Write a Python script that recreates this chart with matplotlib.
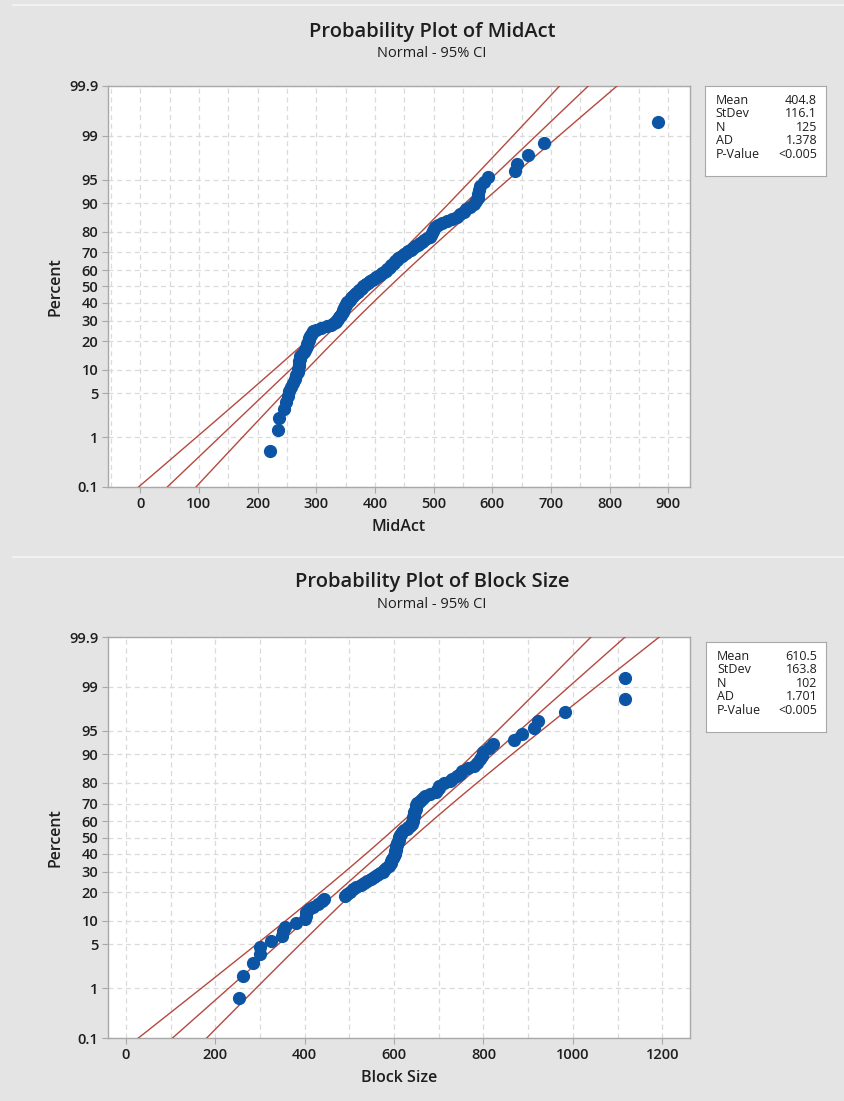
import matplotlib
matplotlib.use('Agg')
import matplotlib.pyplot as plt
from matplotlib.ticker import MultipleLocator, FixedLocator
from matplotlib.lines import Line2D
from statistics import NormalDist
import numpy as np

midact = [221, 235, 237, 245, 248, 251, 254, 257, 260, 263,
          266, 268, 269, 270, 271, 271, 272, 273, 276, 279,
          281, 282, 284, 285, 286, 287, 288, 290, 291, 292, 294,
          300, 308, 318, 325, 330, 333, 335, 337, 339, 340,
          342, 344, 345, 346, 347, 348, 349, 350, 351,
          353, 355, 357, 359, 361, 363, 366, 368, 371, 373,
          376, 378, 380, 383, 385, 389, 392, 395, 398, 402,
          405, 409, 412, 416, 419, 421, 424, 426, 428, 431,
          433, 435, 437, 440, 443, 446, 449, 453, 457, 461,
          465, 469, 473, 476, 480, 484, 489, 493, 495, 497,
          499, 500, 502, 508, 514, 522, 531, 539, 545, 551,
          556, 562, 568, 573, 575, 576, 577, 579, 586, 593,
          638, 642, 660, 688, 882]

block_size = [253, 263, 285, 299, 301, 325, 350, 352, 355, 380,
              400, 402, 404, 410, 418, 430, 438, 443, 490, 495,
              502, 508, 515, 525, 532, 540, 548, 555, 562, 568,
              575, 578, 583, 588, 590, 592, 594, 596, 598, 600,
              601, 602, 603, 604, 605, 605, 606, 607, 608, 610,
              611, 612, 613, 615, 618, 622, 628, 632, 636, 639,
              641, 642, 643, 643, 644, 644, 645, 646, 648, 649,
              650, 652, 655, 660, 665, 670, 680, 693, 697, 700,
              701, 712, 725, 730, 740, 748, 752, 765, 778, 785,
              793, 796, 798, 812, 822, 869, 886, 912, 921, 983,
              1116, 1116]

# summary stats shown in the boxes
midact_stats = [('Mean', '404.8'), ('StDev', '116.1'), ('N', '125'),
                ('AD', '1.378'), ('P-Value', '<0.005')]
block_stats = [('Mean', '610.5'), ('StDev', '163.8'), ('N', '102'),
               ('AD', '1.701'), ('P-Value', '<0.005')]
midact_mean, midact_sd = 404.8, 116.1
block_mean, block_sd = 610.5, 163.8

pct_ticks = [0.1, 1, 5, 10, 20, 30, 40, 50, 60, 70, 80, 90, 95, 99, 99.9]
pct_labels = ['0.1', '1', '5', '10', '20', '30', '40', '50', '60', '70',
              '80', '90', '95', '99', '99.9']

BG = '#e4e4e4'
BLUE = '#0c55a5'
RED = '#b4493f'
GRID = '#dadada'
FRAME = '#a8a8a8'
TXT = '#1e1e1e'

plt.rcParams['font.family'] = ['Open Sans', 'DejaVu Sans']

nd = NormalDist()
zq = lambda p: nd.inv_cdf(p)


def prob_panel(fig, rect, data, mean, sd, title, xlabel, xlim, major, minor,
               box_rect, stats, title_y):
    ax = fig.add_axes(rect)
    ax.set_facecolor('white')
    n = len(data)
    x = np.sort(np.array(data, dtype=float))
    ranks = np.arange(1, n + 1)
    zpos = [zq((r - 0.3) / (n + 0.4)) for r in ranks]

    # fitted line + 95% CI
    zz = np.linspace(-4, 4, 300)
    se = sd * np.sqrt((1 + zz ** 2 / 2) / n)
    xp = mean + zz * sd
    for xx in (xp - 1.96 * se, xp, xp + 1.96 * se):
        ax.plot(xx, zz, color=RED, lw=1.0, zorder=3)

    ax.plot(x, zpos, 'o', color=BLUE, ms=8.5, mec=BLUE, zorder=4, clip_on=False)

    ax.set_xlim(*xlim)
    ax.set_ylim(zq(0.001), zq(0.999))
    ax.xaxis.set_major_locator(MultipleLocator(major))
    ax.xaxis.set_minor_locator(MultipleLocator(minor))
    ax.yaxis.set_major_locator(FixedLocator([zq(p / 100) for p in pct_ticks]))
    ax.set_yticklabels(pct_labels)
    ax.grid(True, which='both', axis='x', color=GRID, ls=(0, (4, 3)), lw=0.9)
    ax.grid(True, which='major', axis='y', color=GRID, ls=(0, (4, 3)), lw=0.9)
    ax.set_axisbelow(True)
    ax.tick_params(which='major', length=4, width=0.8, color=FRAME,
                   labelsize=10.5, labelcolor=TXT, pad=3)
    ax.tick_params(which='minor', length=0)
    for lab in ax.get_xticklabels() + ax.get_yticklabels():
        lab.set_fontweight('semibold')
    for s in ax.spines.values():
        s.set_color(FRAME)
        s.set_linewidth(1.0)

    ax.set_xlabel(xlabel, fontsize=11.5, fontweight='semibold', color=TXT, labelpad=6)
    ax.set_ylabel('Percent', fontsize=11.5, fontweight='semibold', color=TXT, labelpad=4)

    fig.text(0.511, title_y, title, ha='center', va='center', fontsize=14.5,
             fontweight='semibold', color=TXT)
    fig.text(0.511, title_y - 0.020, 'Normal - 95% CI', ha='center', va='center',
             fontsize=10.5, color=TXT)

    # stats box
    bx = fig.add_axes(box_rect)
    bx.set_xticks([])
    bx.set_yticks([])
    bx.set_facecolor('white')
    for s in bx.spines.values():
        s.set_color(FRAME)
        s.set_linewidth(0.8)
    for k, (lab, val) in enumerate(stats):
        yy = 0.84 - k * 0.15
        bx.text(0.09, yy, lab, ha='left', va='center', fontsize=9, color=TXT,
                transform=bx.transAxes)
        bx.text(0.93, yy, val, ha='right', va='center', fontsize=9, color=TXT,
                transform=bx.transAxes)
    return ax


fig = plt.figure(figsize=(8.45, 11.01), dpi=100)
fig.patch.set_facecolor(BG)

# faint separators between the two panels
fig.add_artist(Line2D([0.015, 1.0], [0.9955, 0.9955], color='#f1f1f1', lw=1.5))
fig.add_artist(Line2D([0.015, 1.0], [0.4945, 0.4945], color='#f1f1f1', lw=1.5))

prob_panel(fig, [0.1278, 0.5577, 0.6888, 0.3642], midact, midact_mean, midact_sd,
           'Probability Plot of MidAct', 'MidAct', (-55, 937), 100, 50,
           [0.834, 0.840, 0.143, 0.082], midact_stats, 0.971)

prob_panel(fig, [0.1278, 0.0572, 0.6888, 0.3642], block_size, block_mean, block_sd,
           'Probability Plot of Block Size', 'Block Size', (-40, 1262), 200, 100,
           [0.836, 0.335, 0.141, 0.082], block_stats, 0.4714)

fig.savefig('out.png', dpi=100, facecolor=BG)
